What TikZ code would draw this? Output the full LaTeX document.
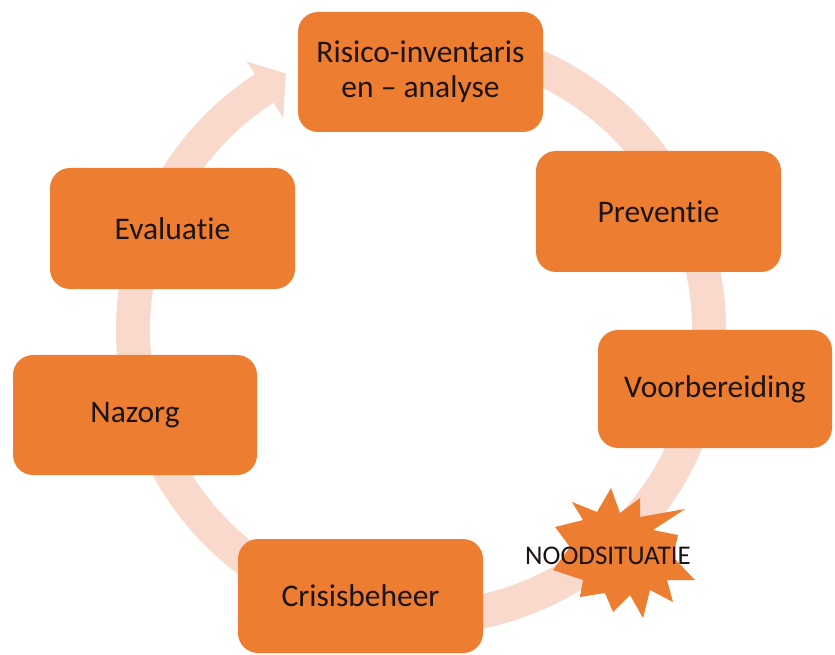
\documentclass[tikz,border=0pt]{standalone}
\usepackage{fontspec}
\setmainfont{Carlito}[Ligatures=NoCommon]
\usetikzlibrary{calc}
\definecolor{boxorange}{RGB}{237,125,49}
\definecolor{ringpeach}{RGB}{248,217,204}
\definecolor{txt}{RGB}{28,20,18}
\tikzset{
  stagebox/.style={fill=boxorange, rounded corners=20pt, text=txt, align=center,
    font=\fontsize{31.5}{35}\selectfont, inner sep=0pt},
  ringfill/.style={fill=ringpeach},
}
\begin{document}
\begin{tikzpicture}[x=1pt,y=1pt]
\useasboundingbox (0,0) rectangle (835,654);
\coordinate (c) at (421,324);
% circular arrow
\fill[ringfill] ($(c)+(105:305)$) arc[start angle=105, end angle=-237, radius=305]
  -- ($(c)+(-237:320)$) -- ($(c)+(-242.2:290)$) -- ($(c)+(-237:253)$)
  -- ($(c)+(-237:271)$) arc[start angle=-237, end angle=105, radius=271] -- cycle;
% stages
\node[stagebox, minimum width=245, minimum height=120] (risico) at (420.5,582) {Risico-inventaris\\en -- analyse};
\node[stagebox, minimum width=245, minimum height=121] (preventie) at (658.5,442.5) {Preventie};
\node[stagebox, minimum width=234, minimum height=118] (voorbereiding) at (715,265) {Voorbereiding};
\node[stagebox, minimum width=245, minimum height=114] (crisis) at (360.5,58) {Crisisbeheer};
\node[stagebox, minimum width=244, minimum height=120] (nazorg) at (135,239) {Nazorg};
\node[stagebox, minimum width=245, minimum height=121] (evaluatie) at (172.5,425.5) {Evaluatie};
% starburst
\fill[boxorange] (611,166) -- (620,141) -- (640,156) -- (640,137) -- (685,145) -- (653,124)
  -- (678,119) -- (673,97) -- (695,74) -- (667,74) -- (673,52) -- (650,64) -- (643,36)
  -- (630,59) -- (613,42) -- (605,61) -- (580,57) -- (583,74) -- (553,84) -- (570,107)
  -- (555,127) -- (583,134) -- (572,152) -- (597,142) -- cycle;
\node[text=txt, font=\fontsize{27}{32}\selectfont, inner sep=0pt] (nood) at (608,98) {NOODSITUATIE};
\end{tikzpicture}
\end{document}
